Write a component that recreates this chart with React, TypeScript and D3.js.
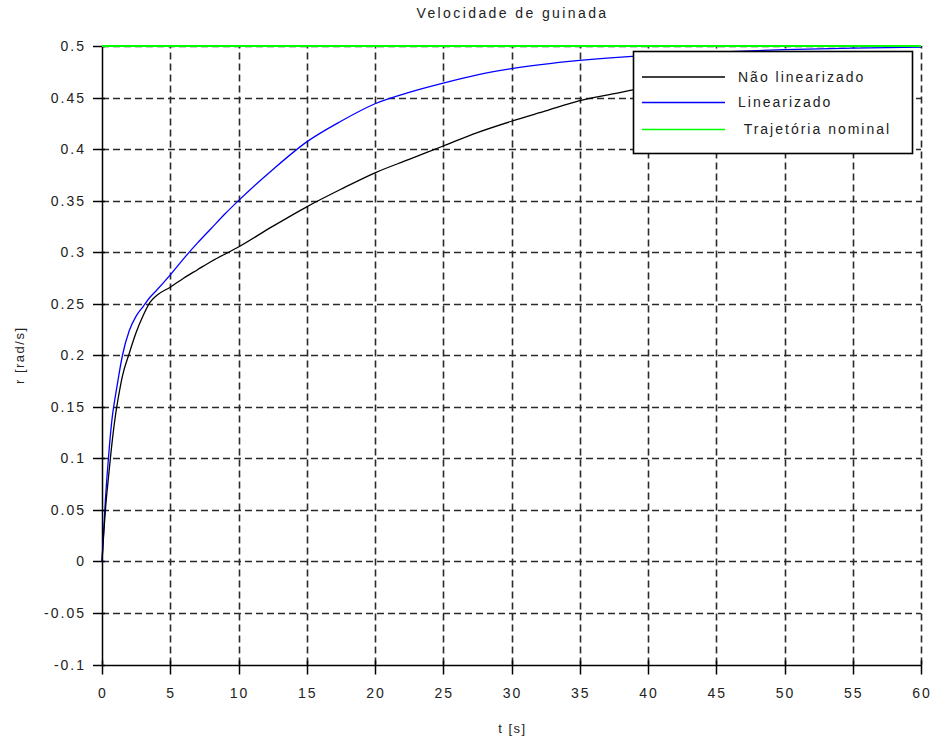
import React from "react";
import * as d3 from "d3";

const title = "Velocidade de guinada";
const xLabel = "t [s]";
const yLabel = "r [rad/s]";
const xTicks = [0, 5, 10, 15, 20, 25, 30, 35, 40, 45, 50, 55, 60];
const yTicks = [-0.1, -0.05, 0, 0.05, 0.1, 0.15, 0.2, 0.25, 0.3, 0.35, 0.4, 0.45, 0.5];
const yTickLabels = ["-0.1", "-0.05", "0", "0.05", "0.1", "0.15", "0.2", "0.25", "0.3", "0.35", "0.4", "0.45", "0.5"];

const tNaoLin = [0, 0.25, 0.5, 0.75, 1, 1.25, 1.5, 2, 2.5, 3, 3.5, 4, 5, 6, 7, 8, 10, 12.5, 15, 17.5, 20, 22.5, 25, 27.5, 30, 32.5, 35, 38, 40, 45, 50, 55];
const rNaoLin = [0, 0.05, 0.085, 0.117, 0.143, 0.163, 0.18, 0.202, 0.222, 0.238, 0.251, 0.258, 0.266, 0.275, 0.283, 0.291, 0.305, 0.325, 0.344, 0.361, 0.377, 0.39, 0.403, 0.416, 0.427, 0.437, 0.447, 0.455, 0.46, 0.47, 0.478, 0.484];

const tLin = [0, 0.25, 0.5, 0.75, 1, 1.25, 1.5, 2, 2.5, 3, 3.5, 4, 5, 6, 7, 8, 9, 10, 12.5, 15, 17.5, 20, 22.5, 25, 27.5, 30, 35, 40, 45, 50, 55, 60];
const rLin = [0, 0.06, 0.105, 0.14, 0.162, 0.182, 0.2, 0.224, 0.238, 0.247, 0.256, 0.263, 0.278, 0.294, 0.309, 0.323, 0.337, 0.35, 0.38, 0.407, 0.427, 0.444, 0.455, 0.464, 0.472, 0.478, 0.486, 0.491, 0.494, 0.4965, 0.498, 0.499];

const tNom = [0, 60];
const rNom = [0.5, 0.5];

const legendLabels = ["Não linearizado", "Linearizado", " Trajetória nominal"];
const colors = ["#000000", "#0000ff", "#00ff00"];

const FONT = "'Liberation Sans', Arial, sans-serif";

export default function App() {
  const x = d3.scaleLinear().domain([0, 60]).range([102, 921]);
  const y = d3.scaleLinear().domain([-0.1, 0.5]).range([664.5, 46]);
  const line = (ts: number[], rs: number[]) =>
    d3.line<number>().x((_, i) => x(ts[i])).y((d) => y(d)).curve(d3.curveMonotoneX)(rs) || "";

  const x0 = x(0);
  const x1 = x(60);
  const yb = y(-0.1);
  const yt = y(0.5);

  const lx = 633, ly = 51, lw = 279, lh = 102;
  const rows = [77, 102.5, 129.5];

  return (
    <svg width={936} height={743} style={{ position: "absolute", left: 0, top: 0, background: "#fff" }} fontFamily={FONT}>
      <rect x={0} y={0} width={936} height={743} fill="#fff" />
      <text x={(x0 + x1) / 2 + 1} y={18} textAnchor="middle" fontSize={14} letterSpacing={2.4} fill="#222">{title}</text>
      {/* grid */}
      {xTicks.filter((t) => t > 0).map((t) => (
        <line key={"gx" + t} x1={Math.round(x(t)) + 0.5} x2={Math.round(x(t)) + 0.5} y1={yb} y2={yt} stroke="#2a2a2a" strokeDasharray="7,4" strokeWidth={1.6} />
      ))}
      {yTicks.filter((v) => v > -0.1).map((v) => (
        <line key={"gy" + v} x1={x0} x2={x1} y1={Math.round(y(v)) + 0.5} y2={Math.round(y(v)) + 0.5} stroke="#2a2a2a" strokeDasharray="7,4" strokeWidth={1.6} />
      ))}
      {/* axes */}
      <line x1={x0 + 0.5} x2={x0 + 0.5} y1={yt} y2={yb} stroke="#000" strokeWidth={1.5} />
      <line x1={x0} x2={x1} y1={Math.round(yb) + 0.5} y2={Math.round(yb) + 0.5} stroke="#000" strokeWidth={1.5} />
      {yTicks.map((v, i) => (
        <g key={"ty" + v}>
          <line x1={x0 - 9} x2={x0 + 3} y1={Math.round(y(v)) + 0.5} y2={Math.round(y(v)) + 0.5} stroke="#000" strokeWidth={1.5} />
          <text x={x0 - 16} y={y(v) + 5} textAnchor="end" fontSize={14} letterSpacing={2} fill="#222">{yTickLabels[i]}</text>
        </g>
      ))}
      {xTicks.map((t) => (
        <g key={"tx" + t}>
          <line x1={Math.round(x(t)) + 0.5} x2={Math.round(x(t)) + 0.5} y1={yb - 4} y2={yb + 10} stroke="#000" strokeWidth={1.5} />
          <text x={x(t) + 1} y={698} textAnchor="middle" fontSize={14} letterSpacing={2} fill="#222">{String(t)}</text>
        </g>
      ))}
      <text x={(x0 + x1) / 2 + 1} y={733} textAnchor="middle" fontSize={13} letterSpacing={1.5} fill="#222">{xLabel}</text>
      <text transform={`translate(24, ${(yt + yb) / 2}) rotate(-90)`} textAnchor="middle" fontSize={13} letterSpacing={1.5} fill="#222">{yLabel}</text>
      {/* series */}
      <path d={line(tLin, rLin)} fill="none" stroke={colors[1]} strokeWidth={1.3} />
      <path d={line(tNaoLin, rNaoLin)} fill="none" stroke={colors[0]} strokeWidth={1.3} />
      <path d={line(tNom, rNom)} fill="none" stroke={colors[2]} strokeWidth={2} />
      {/* legend */}
      <rect x={lx + 0.5} y={ly + 0.5} width={lw} height={lh} fill="#fff" stroke="#000" strokeWidth={1.6} />
      {legendLabels.map((l, i) => (
        <g key={"lg" + i}>
          <line x1={642} x2={725} y1={rows[i]} y2={rows[i]} stroke={colors[i]} strokeWidth={1.3} />
          <text x={738} y={rows[i] + 4.5} fontSize={14} letterSpacing={2} fill="#222" style={{ whiteSpace: "pre" }}>{l}</text>
        </g>
      ))}
    </svg>
  );
}
